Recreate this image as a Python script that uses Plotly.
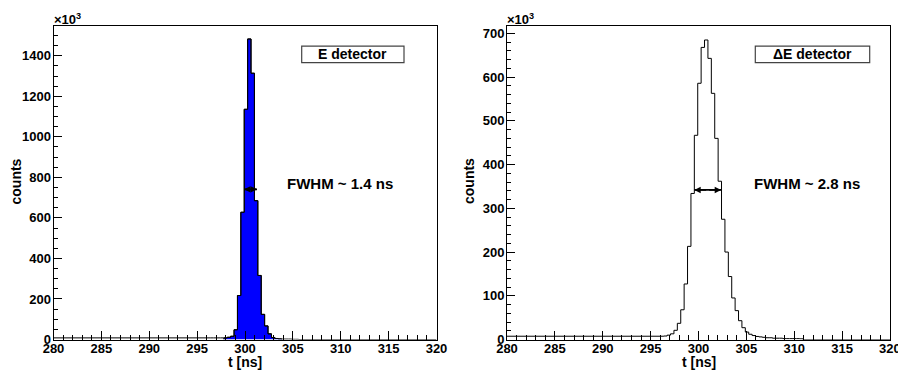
import plotly.graph_objects as go

W, H = 898, 372

# ---------------- data ----------------
BIN_WIDTH = 0.355          # ns
FIRST_EDGE = 296.37        # left edge of first listed bin (ns)
X_MIN, X_MAX = 280, 320

# E detector (filled histogram), counts in units of 10^3
e_background = 8
e_values = [8, 8, 8, 8, 8, 11, 16, 48, 217, 628, 1136, 1483, 1314, 685, 316,
            124, 67, 28, 10, 5, 3, 2, 2, 2, 1, 1]
e_fill_first, e_fill_last = 4, 20   # indices of bins drawn filled blue

# Delta-E detector (line histogram), counts in units of 10^3
de_background = 7.5
de_values = [8, 10, 13, 21, 37, 68, 127, 213, 334, 467, 586, 668, 685, 643, 563,
             460, 362, 275, 200, 144, 95, 66, 43, 27, 17, 12, 9, 7, 6, 5, 4, 4,
             3, 3, 3, 2, 2, 2, 2, 2, 1.5]

e_fwhm = (299.9, 301.25, 741)     # x1, x2, y
de_fwhm = (299.56, 302.36, 342)

e_yticks = [0, 200, 400, 600, 800, 1000, 1200, 1400]
de_yticks = [0, 100, 200, 300, 400, 500, 600, 700]
xticks = [280, 285, 290, 295, 300, 305, 310, 315, 320]

e_label = "E detector"
de_label = "ΔE detector"
e_fwhm_text = "FWHM ~ 1.4 ns"
de_fwhm_text = "FWHM ~ 2.8 ns"

# ---------------- helpers ----------------
FONT = "Liberation Sans, Arial, Helvetica, sans-serif"


def px(x):
    return x / W


def py(y):
    return 1 - y / H


def edges_for(n):
    return [FIRST_EDGE + i * BIN_WIDTH for i in range(n + 1)]


def full_step(values, bg):
    ed = edges_for(len(values))
    xs = [X_MIN] + ed + [X_MAX]
    ys = [bg] + list(values) + [0, 0]
    return xs, ys


def fill_step(values, i0, i1):
    ed = edges_for(len(values))
    xs = [ed[i0]] + ed[i0:i1 + 1] + [ed[i1 + 1]]
    ys = [0] + list(values[i0:i1 + 1]) + [0]
    return xs, ys


fig = go.Figure()

# left: E detector
fx, fy = fill_step(e_values, e_fill_first, e_fill_last)
fig.add_trace(go.Scatter(x=fx, y=fy, mode="lines", line=dict(shape="hv", color="black", width=1),
                         fill="tozeroy", fillcolor="#0000FF", xaxis="x", yaxis="y",
                         hoverinfo="skip", showlegend=False))
lx, ly = full_step(e_values, e_background)
fig.add_trace(go.Scatter(x=lx, y=ly, mode="lines", line=dict(shape="hv", color="black", width=1),
                         xaxis="x", yaxis="y", hoverinfo="skip", showlegend=False))

# right: Delta E detector
rx, ry = full_step(de_values, de_background)
fig.add_trace(go.Scatter(x=rx, y=ry, mode="lines", line=dict(shape="hv", color="black", width=1),
                         xaxis="x2", yaxis="y2", hoverinfo="skip", showlegend=False))

# FWHM bars (line part)
for (a, b, yv), xa, ya in [(e_fwhm, "x", "y"), (de_fwhm, "x2", "y2")]:
    fig.add_trace(go.Scatter(x=[a, b], y=[yv, yv], mode="lines",
                             line=dict(color="black", width=1.8), xaxis=xa, yaxis=ya,
                             hoverinfo="skip", showlegend=False))

# axes
L = (53.5, 436.5)
R = (507, 890)
TOP, BOT = 26, 339.5

tickfont = dict(family=FONT, size=13, color="black", weight="bold")


def xaxis(dom, anchor):
    return dict(domain=[px(dom[0]), px(dom[1])], anchor=anchor, range=[X_MIN, X_MAX],
                tickmode="array", tickvals=xticks, ticks="inside", ticklen=9, tickwidth=1,
                tickcolor="black", minor=dict(ticks="inside", ticklen=5, dtick=1, tick0=280,
                                             tickcolor="black", tickwidth=1),
                showline=True, mirror=True, linecolor="black", linewidth=1,
                showgrid=False, zeroline=False, tickfont=tickfont, fixedrange=True,
                automargin=False, ticklabelstandoff=-3)


def yaxis(top, tv, minor_dt, anchor):
    return dict(domain=[py(BOT), py(TOP)], anchor=anchor, range=[0, top],
                tickmode="array", tickvals=tv, ticks="inside", ticklen=8, tickwidth=1,
                tickcolor="black", minor=dict(ticks="inside", ticklen=4, dtick=minor_dt, tick0=0,
                                             tickcolor="black", tickwidth=1),
                showline=True, mirror=True, linecolor="black", linewidth=1,
                showgrid=False, zeroline=False, tickfont=tickfont, fixedrange=True,
                automargin=False, ticklabelstandoff=-1)


fig.update_layout(
    width=W, height=H, margin=dict(l=0, r=0, t=0, b=0, autoexpand=False),
    paper_bgcolor="white", plot_bgcolor="white", showlegend=False,
    xaxis=xaxis(L, "y"), yaxis=yaxis(1547, e_yticks, 50, "x"),
    xaxis2=xaxis(R, "y2"), yaxis2=yaxis(717, de_yticks, 20, "x2"),
)

ann = []
shapes = []


def text(x, y, s, size, xanchor="center", angle=0, bold=True):
    ann.append(dict(x=px(x), y=py(y), xref="paper", yref="paper", text=s, showarrow=False,
                    xanchor=xanchor, yanchor="middle", textangle=angle,
                    font=dict(family=FONT, size=size, color="black",
                              weight="bold" if bold else "normal")))


for (x0, x1), box, lab, ftxt, fx_c in [
    (L, (301.7, 404.0), e_label, e_fwhm_text, 340),
    (R, (755.3, 869.7), de_label, de_fwhm_text, 807),
]:
    text(x0 - 1.8, 19, "×10<sup>3</sup>", 13, xanchor="left")
    text((x0 + x1) / 2, 362, "t [ns]", 14)
    text(x0 - 38, 181, "counts", 14, angle=-90)
    shapes.append(dict(type="rect", xref="paper", yref="paper",
                       x0=px(box[0]), x1=px(box[1]), y0=py(62.7), y1=py(46.2),
                       line=dict(color="#444444", width=1.2), fillcolor="white"))
    text((box[0] + box[1]) / 2, 54.5, lab, 14)
    text(fx_c, 183, ftxt, 15)

# last x tick label of the right panel, cut by the page edge as in the original
ann.append(dict(x=xticks[-1], y=py(348), xref="x2", yref="paper", text=str(xticks[-1]),
                showarrow=False, xanchor="center", yanchor="middle",
                font=dict(family=FONT, size=13, color="black", weight="bold")))

# FWHM arrow heads
for (a, b, yv), xr, yr in [(e_fwhm, "x", "y"), (de_fwhm, "x2", "y2")]:
    mid = (a + b) / 2
    for end in (a, b):
        ann.append(dict(x=end, y=yv, ax=mid, ay=yv, xref=xr, yref=yr, axref=xr, ayref=yr,
                        text="", showarrow=True, arrowhead=2, arrowsize=0.8,
                        arrowwidth=1.6, arrowcolor="black", standoff=0, startstandoff=0))

fig.update_layout(annotations=ann, shapes=shapes)
fig.write_html("out.html")
